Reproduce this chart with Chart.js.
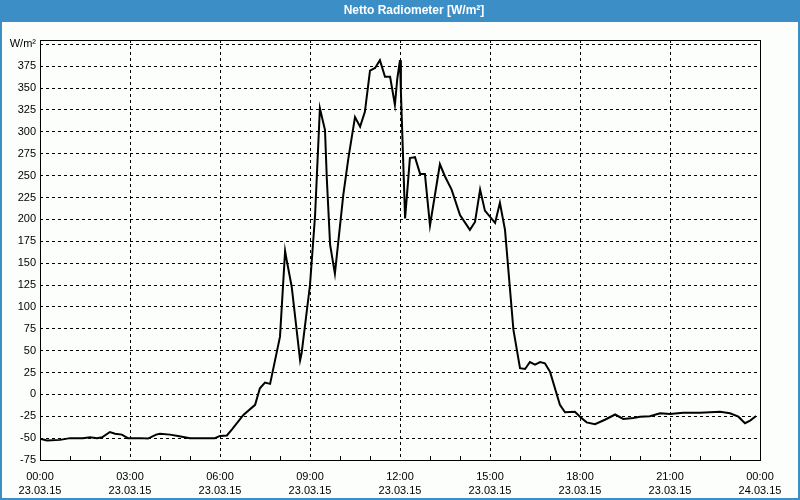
<!DOCTYPE html>
<html>
<head>
<meta charset="utf-8">
<script src="https://cdn.jsdelivr.net/npm/chart.js@4/dist/chart.umd.min.js"></script>
<style>
html,body{margin:0;padding:0;background:#fff;}
canvas{display:block;}
</style>
</head>
<body>
<canvas id="c" width="800" height="500"></canvas>
<script>
// ---- data (hour of day, W/m²) ----
const hours = [0.00,0.23,0.67,1.00,1.43,1.67,1.90,2.07,2.33,2.50,2.73,2.93,3.33,3.60,3.87,4.00,4.33,4.60,5.00,5.83,6.00,6.23,6.40,6.78,7.17,7.33,7.50,7.67,8.00,8.17,8.22,8.39,8.67,8.72,9.00,9.17,9.33,9.50,9.56,9.67,9.83,10.11,10.28,10.50,10.67,10.83,11.00,11.17,11.33,11.50,11.67,11.83,11.91,12.00,12.03,12.17,12.33,12.50,12.67,12.83,13.00,13.33,13.50,13.72,14.00,14.33,14.50,14.67,14.83,15.17,15.33,15.50,15.78,16.00,16.17,16.33,16.50,16.67,16.83,17.00,17.33,17.50,17.83,18.00,18.22,18.50,18.83,19.17,19.44,19.78,20.00,20.33,20.67,21.00,21.44,22.00,22.67,23.00,23.28,23.50,23.67,23.87];
const values = [-50.6,-52.7,-52,-50,-50,-49,-50,-49,-43,-45,-46,-50,-50,-50.5,-46,-45,-46,-47.5,-50,-50,-47.5,-47,-40,-23.5,-12,7,13.4,12,66,164,154,123,39,47,125,205,327,302,247,171,138,228,270,317,306,323,370,373,382,363,363,331,361,382,346,201,270,271,252,252,193,263,249,234,205,188,197,234,210,196,219,188,74,30,29,37,34,37,35.5,26,-12,-20.5,-20,-25.5,-32,-34,-29,-23,-28,-27,-25.5,-25,-21.6,-22.4,-21,-21,-20,-21.6,-25.5,-33,-30,-24.7];
const xTickHours = [0,3,6,9,12,15,18,21,24];
const xTimeLabels = ['00:00','03:00','06:00','09:00','12:00','15:00','18:00','21:00','00:00'];
const xDateLabels = ['23.03.15','23.03.15','23.03.15','23.03.15','23.03.15','23.03.15','23.03.15','23.03.15','24.03.15'];
const yTicks = [-75,-50,-25,0,25,50,75,100,125,150,175,200,225,250,275,300,325,350,375,400];
const yUnitLabel = 'W/m²';
const titleText = 'Netto Radiometer [W/m²]';

const points = hours.map((h,i)=>({x:h,y:values[i]}));
const FONT = 'Liberation Sans, Arial, sans-serif';

const decor = {
  id:'decor',
  beforeDraw(chart){
    const ctx = chart.ctx;
    ctx.save();
    ctx.fillStyle = '#fcfefc';
    ctx.fillRect(0,0,chart.width,chart.height);
    ctx.fillStyle = '#3c8fc6';
    ctx.fillRect(0,0,chart.width,22);
    ctx.strokeStyle = '#3c8fc6';
    ctx.lineWidth = 2;
    ctx.strokeRect(1,1,chart.width-2,chart.height-2);
    ctx.fillStyle = '#ffffff';
    ctx.font = 'bold 12px ' + FONT;
    ctx.textAlign = 'center';
    ctx.textBaseline = 'middle';
    ctx.fillText(titleText, 414, 11);
    ctx.restore();
  },
  beforeDatasetsDraw(chart){
    const ctx = chart.ctx, a = chart.chartArea, xs = chart.scales.x;
    ctx.save();
    ctx.strokeStyle = '#000';
    ctx.lineWidth = 1;
    ctx.setLineDash([]);
    ctx.beginPath();
    for(let h=1; h<24; h++){
      if(h%3===0) continue;
      const px = Math.round(xs.getPixelForValue(h))+0.5;
      ctx.moveTo(px, a.bottom);
      ctx.lineTo(px, a.bottom-4);
    }
    ctx.stroke();
    ctx.strokeRect(Math.round(a.left)+0.5, Math.round(a.top)+0.5, Math.round(a.right-a.left), Math.round(a.bottom-a.top));
    ctx.restore();
  }
};

new Chart(document.getElementById('c'), {
  type:'line',
  data:{datasets:[{data:points,borderColor:'#000',borderWidth:2,pointRadius:0,tension:0,fill:false}]},
  options:{
    responsive:false,
    animation:false,
    layout:{padding:{top:40,right:40,left:0,bottom:0}},
    plugins:{
      legend:{display:false},
      tooltip:{enabled:false},
      title:{display:false}
    },
    scales:{
      x:{
        type:'linear',min:0,max:24,
        afterBuildTicks(s){ s.ticks = xTickHours.map(v=>({value:v})); },
        afterFit(s){ s.height = 40; },
        border:{display:false,dash:[3,3]},
        grid:{drawTicks:false,color:(c)=> (c.tick && (c.tick.value===0||c.tick.value===24)) ? 'rgba(0,0,0,0)' : '#000',lineWidth:1},
        ticks:{
          padding:9,color:'#000',maxRotation:0,autoSkip:false,
          font:{family:FONT,size:11,lineHeight:1.36},
          callback:(v)=>{const i=xTickHours.indexOf(v); return i<0?'':[xTimeLabels[i],xDateLabels[i]];}
        }
      },
      y:{
        type:'linear',min:-75,max:405,
        afterBuildTicks(s){ s.ticks = yTicks.map(v=>({value:v})); },
        afterFit(s){ s.width = 40; },
        border:{display:false,dash:[3,3]},
        grid:{drawTicks:false,color:(c)=> (c.tick && c.tick.value===-75) ? 'rgba(0,0,0,0)' : '#000',lineWidth:1},
        ticks:{
          padding:4,color:'#000',autoSkip:false,
          font:{family:FONT,size:11},
          callback:(v)=> v===400 ? yUnitLabel : String(v)
        }
      }
    }
  },
  plugins:[decor]
});
</script>
</body>
</html>
